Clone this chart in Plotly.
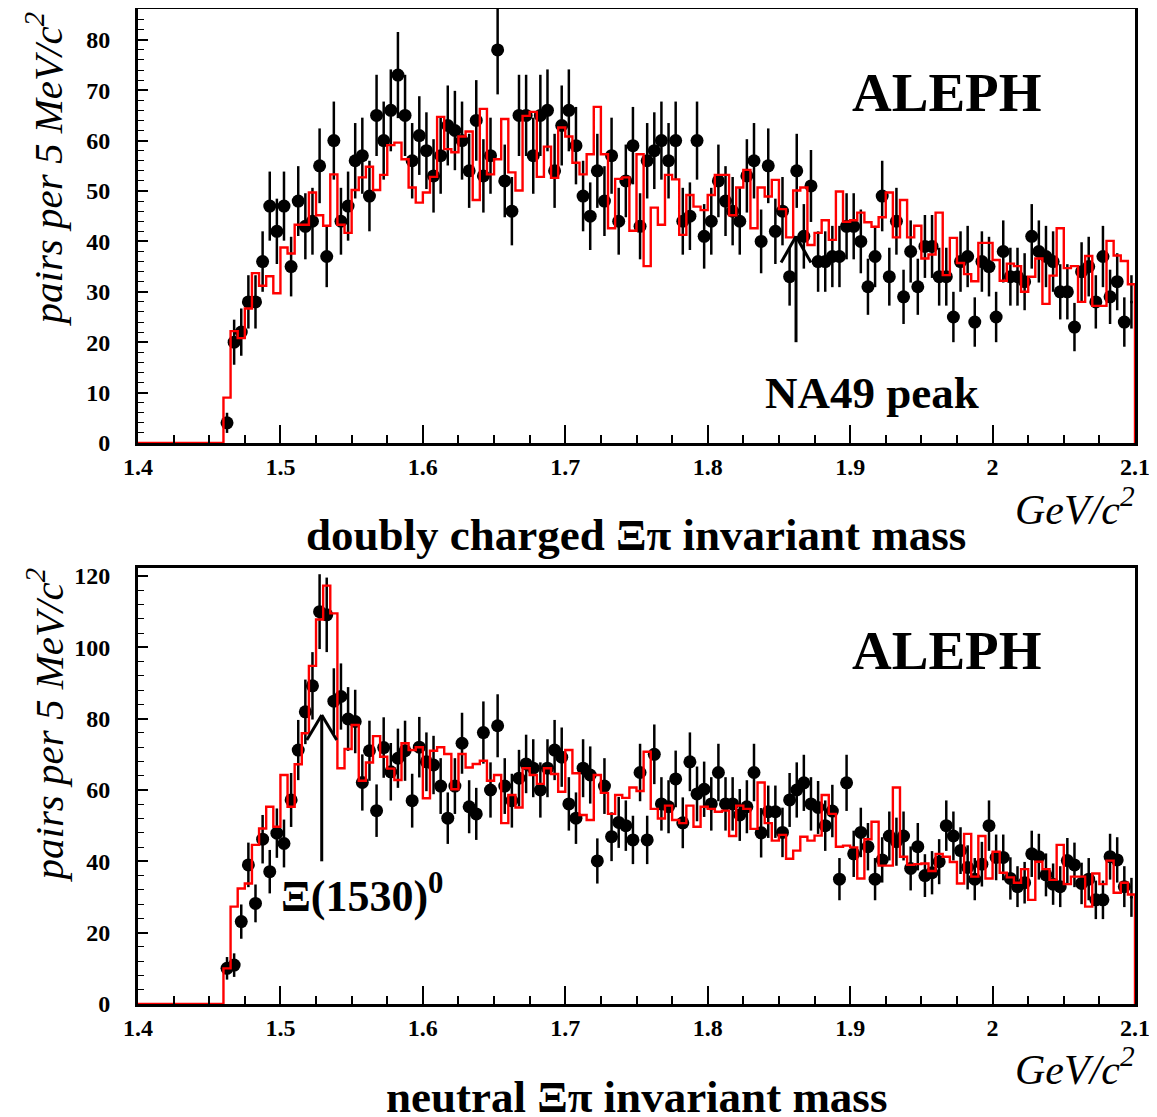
import numpy as np
import plotly.graph_objects as go

# ---------------- data ----------------
BIN_WIDTH = 0.005
X_MIN, X_MAX = 1.4, 2.1
FIRST_POINT = 1.4625          # first bin centre with data
FIRST_HIST_EDGE = 1.46        # histogram is zero below this edge

# doubly charged Xi pi : data points (per 5 MeV bin, 1.4625 ... 2.0975)
charged_counts = [
    4, 20, 22, 28, 28, 36, 47, 42, 47, 35, 48, 43, 44, 55, 37, 60, 44, 47, 56, 57, 49, 65, 60, 66, 73,
    65, 56, 61, 58, 53, 57, 63, 62, 60, 54, 64, 53, 57, 78, 52, 46, 65, 65, 57, 65, 66, 54, 63, 66, 59, 49, 45,
    54, 48, 57, 44, 52, 59, 43, 56, 58, 60, 56, 60, 44, 45, 60, 41, 44, 52, 48, 46, 44, 53, 56, 40, 55, 42,
    46, 33, 54, 41, 51, 36, 36, 37, 37, 43, 43, 40, 31, 37, 49, 33, 44, 29, 38, 31, 39, 39, 33, 33, 25, 36, 37,
    24, 36, 35, 25, 38, 33, 33, 32, 41, 38, 37, 36, 30, 30, 23, 34, 35, 28, 37, 29, 32, 24, 28,
]
# doubly charged : red histogram (bins 1.460 ... 2.095)
charged_hist = [
    9.0, 22.2, 20.8, 26.7, 33.7, 31.2, 33.1, 29.7, 38.8, 37.6, 43.3, 43.3, 49.7, 45.2, 43.1, 53.3, 43.3, 41.7,
    50.2, 52.7, 54.8, 50.2, 53.2, 59.1,
    59.6, 56.3, 50.7, 47.7, 49.7, 52.8, 64.7, 58.3, 57.7, 60.8, 61.8, 48.2, 66.3, 53.3, 56.3, 64.3, 53.7, 50.1,
    64.9, 65.7, 52.8, 58.8, 52.6, 62.6, 60.8, 55.6, 53.3,
    57.3, 66.7, 57.3, 42.6, 52.4, 52.7, 42.1, 57.3, 35.1, 46.7, 43.3, 53.2, 52.3, 41.3, 49.2, 46.9, 46.2, 49.2,
    53.2, 53.2, 45.2, 50.7, 54.2, 42.6, 50.7, 48.9, 52.2,
    46.4, 40.8, 50.1, 50.7, 39.3, 41.7, 44.2, 40.3, 49.9, 43.9, 44.2, 45.7, 43.8, 42.9, 44.8, 49.7, 40.8, 48.2,
    40.8, 43.1, 36.6, 37.4, 45.7, 33.3,
    40.7, 35.7, 33.5, 32.1, 39.7, 39.7, 36.3, 32.2, 35.6, 35.1, 30.0, 33.0, 36.6, 27.6, 33.2, 42.6, 34.7, 35.1,
    28.0, 37.1, 27.2, 27.2, 40.1, 37.2, 36.1, 31.5,
]
# neutral Xi pi : data points
neutral_counts = [
    10.0, 10.9, 23.1, 39.0, 28.2, 46.2, 37.1, 47.9, 45.0, 57.2, 71.2, 81.9, 89.2, 110.0, 109.1, 84.9, 86.2,
    79.9, 79.2, 62.1, 71.0, 54.2, 71.9, 65.1, 68.9,
    71.0, 57.0, 72.0, 67.9, 67.0, 61.1, 52.1, 61.1, 73.1, 55.3, 53.3, 76.1, 60.0, 78.0, 61.1, 57.0, 63.3, 67.3,
    66.1, 60.0, 66.1, 71.2, 69.2, 56.1, 52.1, 66.1, 64.2,
    40.1, 61.1, 46.9, 50.9, 50.0, 46.0, 64.9, 46.0, 70.0, 56.1, 55.3, 63.1, 50.8, 67.9, 58.9, 60.2, 56.1, 64.9,
    56.1, 56.1, 53.0, 55.3, 64.9, 48.0, 53.9, 53.9,
    48.1, 57.2, 60.0, 62.0, 56.1, 55.1, 50.0, 54.1, 35.0, 62.0, 42.1, 48.1, 44.1, 35.0, 40.4, 47.1, 45.5, 47.1,
    38.0, 44.1, 36.0, 36.8, 39.9, 50.0, 47.1, 43.0, 38.3,
    35.0, 39.2, 50.0, 41.1, 41.1, 35.2, 32.9, 34.0, 42.1, 41.3, 36.2, 33.6, 32.9, 40.2, 39.0, 33.8, 35.0, 29.2,
    29.2, 41.3, 40.4, 32.9, 29.9,
]
# neutral : red histogram
neutral_hist = [
    10.0, 27.3, 32.4, 33.8, 44.6, 49.2, 55.3, 49.7, 64.2, 55.3, 67.2, 75.9, 94.8, 107.8, 117.3, 109.5, 66.1,
    71.5, 78.2, 62.6, 67.7, 75.1, 69.3, 66.0,
    62.8, 73.1, 71.2, 72.0, 57.7, 71.0, 72.0, 70.1, 60.2, 70.1, 66.3, 67.3, 68.2, 62.6, 64.2, 50.7, 58.6, 55.1,
    66.1, 64.2, 61.7, 66.1, 64.5, 59.5, 71.2, 64.7, 53.0,
    51.6, 64.2, 59.2, 53.3, 58.6, 57.8, 60.7, 59.7, 70.7, 54.7, 52.0, 55.6, 51.6, 50.7, 55.6, 49.7, 55.3, 54.7,
    53.9, 54.2, 47.1, 55.6, 54.7, 49.1, 62.1, 50.7, 45.8,
    47.4, 40.7, 43.0, 46.9, 45.8, 47.2, 58.6, 53.3, 44.1, 44.4, 43.9, 35.2, 46.2, 51.1, 38.8, 38.8, 60.7, 41.3,
    39.0, 39.2, 39.4, 37.3, 42.1, 41.3,
    39.8, 33.8, 47.7, 35.7, 47.1, 35.2, 42.7, 36.8, 35.5, 34.0, 37.8, 29.2, 39.9, 37.8, 34.8, 44.6, 33.6, 35.7,
    35.7, 27.3, 36.6, 33.6, 40.2, 31.2, 34.0, 30.7,
]

x_tick_vals = [1.4, 1.5, 1.6, 1.7, 1.8, 1.9, 2.0, 2.1]
x_tick_text = ["1.4", "1.5", "1.6", "1.7", "1.8", "1.9", "2", "2.1"]

# annotation arrows (data coordinates): x, y_tail, y_head
na49_arrow = (1.862, 20, 41)
xi1530_arrow = (1.529, 40, 81)

# ---------------- figure ----------------
# the page body has an 8 px margin; figure is sized to fit the 1157x1117 window
PAGE_W, PAGE_H = 1157, 1117
OFF = 8
W, H = PAGE_W - OFF, PAGE_H - OFF
def px(x): return (x - OFF) / W
def py(y): return 1 - (y - OFF) / H

X_L, X_R = 138, 1135
TOP_Y0, TOP_Y1 = 9, 443
BOT_Y0, BOT_Y1 = 568, 1004

SERIF = "Times New Roman, Liberation Serif, Times, serif"

fig = go.Figure()

def centers(n):
    return FIRST_POINT + BIN_WIDTH * np.arange(n)

def hist_xy(vals):
    n_zero = int(round((FIRST_HIST_EDGE - X_MIN) / BIN_WIDTH))
    full = [0.0] * n_zero + list(vals)
    edges = X_MIN + BIN_WIDTH * np.arange(len(full) + 1)
    xs = list(edges[:-1]) + [edges[-1]]
    ys = full + [0.0]
    return xs, ys

def add_panel(counts, hist, xa, ya):
    c = np.array(counts, dtype=float)
    xc = centers(len(c))
    sizes = [13] * (len(c) - 1) + [3]
    fig.add_trace(go.Scatter(
        x=xc, y=c, mode="markers", xaxis=xa, yaxis=ya,
        marker=dict(color="black", size=sizes, opacity=1, line=dict(width=0)),
        error_y=dict(type="data", array=np.sqrt(c), color="black", thickness=2.5, width=0),
        showlegend=False, cliponaxis=True))
    hx, hy = hist_xy(hist)
    fig.add_trace(go.Scatter(
        x=hx, y=hy, mode="lines", line_shape="hv", xaxis=xa, yaxis=ya,
        line=dict(color="#ff0000", width=2.4), showlegend=False))

add_panel(charged_counts, charged_hist, "x", "y")
add_panel(neutral_counts, neutral_hist, "x2", "y2")

tickfont = dict(family=SERIF, size=24, color="black", weight="bold")

def xaxis_cfg(anchor):
    return dict(domain=[px(X_L), px(X_R)], range=[X_MIN, X_MAX], anchor=anchor, automargin=False,
                tickmode="array", tickvals=x_tick_vals, ticktext=x_tick_text,
                ticks="inside", ticklen=18, tickwidth=1.5, tickcolor="black", ticklabelstandoff=0,
                minor=dict(dtick=0.025, tick0=1.4, ticks="inside", ticklen=8, tickwidth=1.5, tickcolor="black"),
                showline=True, linewidth=3, linecolor="black", mirror=True,
                showgrid=False, zeroline=False, tickfont=tickfont)

def yaxis_cfg(anchor, y0, y1, unit_px, dtick, mdtick):
    top = (y1 - y0) / unit_px
    return dict(domain=[py(y1), py(y0)], range=[0, top], anchor=anchor, automargin=False,
                dtick=dtick, tick0=0, ticks="inside", ticklen=10, tickwidth=1.5, tickcolor="black",
                ticklabelstandoff=20,
                minor=dict(dtick=mdtick, ticks="inside", ticklen=6, tickwidth=1.2, tickcolor="black"),
                showline=True, linewidth=3, linecolor="black", mirror=True,
                showgrid=False, zeroline=False, tickfont=tickfont)

fig.update_layout(
    width=W, height=H, margin=dict(l=0, r=0, t=0, b=0, autoexpand=False),
    paper_bgcolor="white", plot_bgcolor="white",
    xaxis=xaxis_cfg("y"), yaxis=yaxis_cfg("x", TOP_Y0, TOP_Y1, 5.04, 10, 2),
    xaxis2=xaxis_cfg("y2"), yaxis2=yaxis_cfg("x2", BOT_Y0, BOT_Y1, 3.567, 20, 4),
)

ann = []
def text(t, x, y, size, bold=False, italic=False, xanchor="center", yanchor="middle", angle=0):
    ann.append(dict(text=t, x=px(x), y=py(y), xref="paper", yref="paper", showarrow=False,
                    xanchor=xanchor, yanchor=yanchor, textangle=angle,
                    font=dict(family=SERIF, size=size, color="black",
                              weight="bold" if bold else "normal",
                              style="italic" if italic else "normal")))

text("ALEPH", 946, 92, 55, bold=True)
text("ALEPH", 946, 650, 55, bold=True)
text("NA49 peak", 872, 393, 45, bold=True)
text("Ξ(1530)<sup>0</sup>", 279, 893, 44, bold=True, xanchor="left")
text("GeV/c<sup>2</sup>", 1137, 506, 42, italic=True, xanchor="right")
text("GeV/c<sup>2</sup>", 1137, 1066, 42, italic=True, xanchor="right")
text("doubly charged Ξπ invariant mass", 636, 535, 45, bold=True)
text("neutral Ξπ invariant mass", 636, 1097, 45, bold=True)
text("pairs per 5 MeV/c<sup>2</sup>", 45, 10, 41, italic=True, yanchor="top", angle=-90)
text("pairs per 5 MeV/c<sup>2</sup>", 45, 566, 41, italic=True, yanchor="top", angle=-90)
fig.update_layout(annotations=ann)

def arrow(spec, xr, yr, dx, dy):
    x, y0, y1 = spec
    line = dict(color="black", width=3)
    fig.add_shape(type="line", xref=xr, yref=yr, x0=x, x1=x, y0=y0, y1=y1, line=line)
    fig.add_shape(type="line", xref=xr, yref=yr, x0=x - dx, x1=x, y0=y1 - dy, y1=y1, line=line)
    fig.add_shape(type="line", xref=xr, yref=yr, x0=x + dx, x1=x, y0=y1 - dy, y1=y1, line=line)

arrow(na49_arrow, "x", "y", 0.0105, 5.2)
arrow(xi1530_arrow, "x2", "y2", 0.0105, 7.0)

fig.write_html("out.html")
